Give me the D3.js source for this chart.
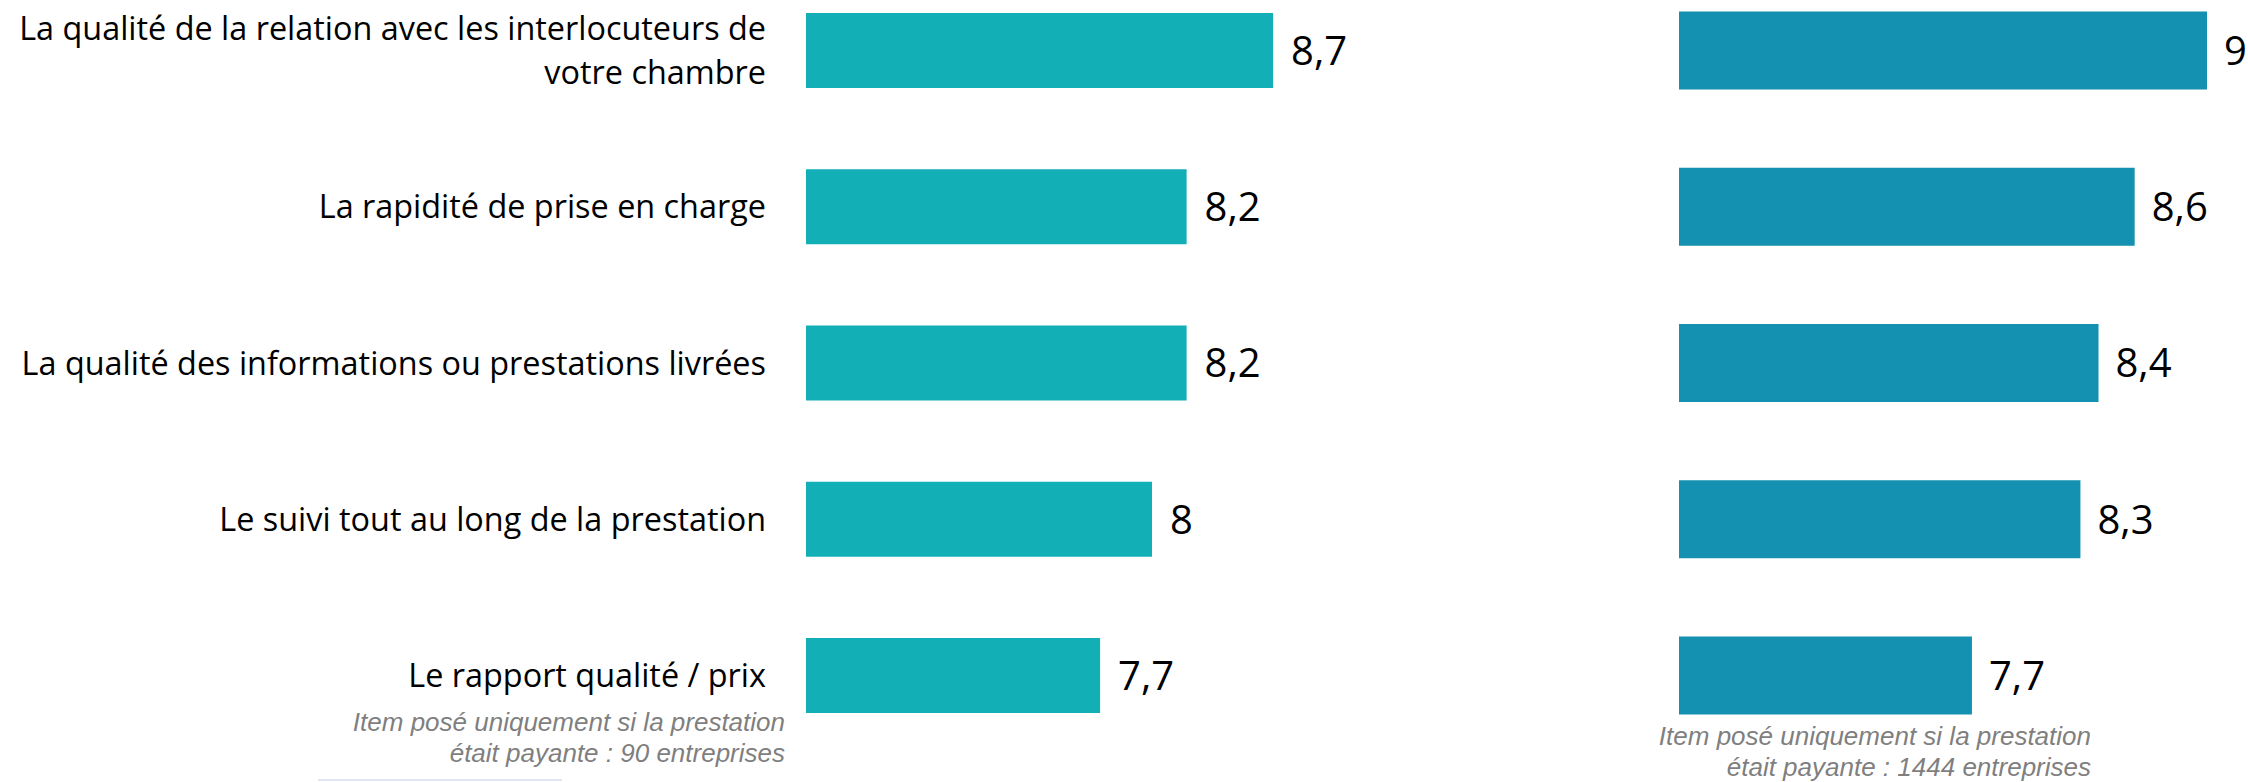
<!DOCTYPE html>
<html>
<head>
<meta charset="utf-8">
<script src="https://cdn.jsdelivr.net/npm/d3@7"></script>
<style>
  html, body { margin: 0; padding: 0; background: #ffffff; }
  svg { display: block; }
</style>
</head>
<body>
<svg id="chart" width="2248" height="782"></svg>
<script>
// ---- data ----
const categories = [
  "La qualité de la relation avec les interlocuteurs de votre chambre",
  "La rapidité de prise en charge",
  "La qualité des informations ou prestations livrées",
  "Le suivi tout au long de la prestation",
  "Le rapport qualité / prix"
];
const categoryLines = [
  ["La qualité de la relation avec les interlocuteurs de", "votre chambre"],
  ["La rapidité de prise en charge"],
  ["La qualité des informations ou prestations livrées"],
  ["Le suivi tout au long de la prestation"],
  ["Le rapport qualité / prix"]
];
const leftValues = [8.7, 8.2, 8.2, 8.0, 7.7];
const rightValues = [9.0, 8.6, 8.4, 8.3, 7.7];
const leftNote = ["Item posé uniquement si la prestation", "était payante : 90 entreprises"];
const rightNote = ["Item posé uniquement si la prestation", "était payante : 1444 entreprises"];

// ---- layout ----
const W = 2248, H = 782;
const svg = d3.select("#chart");
const font = "'Open Sans', 'Noto Sans', sans-serif";
const noteFont = "'Liberation Sans', Arial, sans-serif";

const y = d3.scalePoint().domain(categories).range([50.5, 675.5]);
const xLeft = d3.scaleLinear().domain([6, 10]).range([806, 1498]);
const xRight = d3.scaleLinear().domain([6.08, 9]).range([1679, 2207]);

const fmt = v => String(+v.toFixed(1)).replace(".", ",");

function drawSeries(values, x, color, barH, gap) {
  const g = svg.append("g");
  g.selectAll("rect").data(values).join("rect")
    .attr("x", x.range()[0])
    .attr("y", (d, i) => y(categories[i]) - barH / 2)
    .attr("width", d => x(d) - x.range()[0])
    .attr("height", barH)
    .attr("fill", color);
  g.selectAll("text.val").data(values).join("text")
    .attr("class", "val")
    .attr("x", d => x(d) + gap)
    .attr("y", (d, i) => y(categories[i]))
    .attr("dy", "0.36em")
    .attr("font-family", font)
    .attr("font-size", 40)
    .attr("fill", "#000")
    .text(d => fmt(d));
}

drawSeries(leftValues, xLeft, "#13afb7", 75, 18);
drawSeries(rightValues, xRight, "#1490b0", 78, 17);

// category labels
const lab = svg.append("g");
categoryLines.forEach((lines, i) => {
  const cy = y(categories[i]);
  const lh = 44;
  const t = lab.append("text")
    .attr("text-anchor", "end")
    .attr("font-family", font)
    .attr("font-size", 32.4)
    .attr("fill", "#000");
  lines.forEach((ln, j) => {
    t.append("tspan")
      .attr("x", 766)
      .attr("y", cy + (j - (lines.length - 1) / 2) * lh)
      .attr("dy", "0.36em")
      .text(ln);
  });
});

// notes
function note(lines, xr, y0) {
  const g = svg.append("g");
  lines.forEach((ln, j) => {
    g.append("text")
      .attr("text-anchor", "end")
      .attr("font-family", noteFont)
      .attr("font-style", "italic")
      .attr("font-size", 26)
      .attr("fill", "#7f7f7f")
      .attr("x", xr).attr("y", y0 + j * 31).text(ln);
  });
}
note(leftNote, 785, 731);
note(rightNote, 2091, 745);

// faint line at the bottom left
svg.append("line")
  .attr("x1", 318).attr("x2", 562)
  .attr("y1", 780).attr("y2", 780)
  .attr("stroke", "#e3e3f6")
  .attr("stroke-width", 2);
</script>
</body>
</html>
